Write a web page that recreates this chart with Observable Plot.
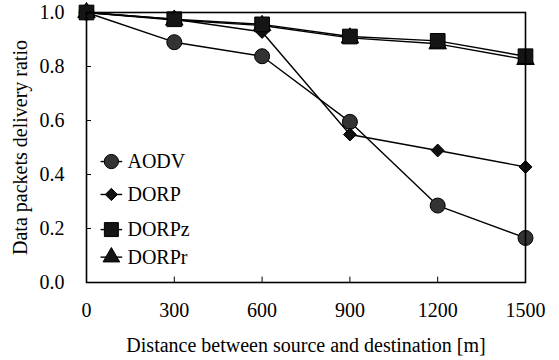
<!DOCTYPE html>
<html>
<head>
<meta charset="utf-8">
<script src="https://cdn.jsdelivr.net/npm/d3@7"></script>
<script src="https://cdn.jsdelivr.net/npm/@observablehq/plot@0.6"></script>
<style>
  html, body { margin: 0; padding: 0; background: #fff; }
  #chart { width: 559px; height: 360px; }
  #chart svg, #chart svg text, #chart svg g { font-family: "Liberation Serif", "Times New Roman", Times, Tinos, "DejaVu Serif", serif !important; }
</style>
</head>
<body>
<div id="chart"></div>
<script>
const distances = [0, 300, 600, 900, 1200, 1500];
const aodv  = [1.0, 0.89, 0.838, 0.595, 0.285, 0.165];
const dorp  = [1.0, 0.975, 0.928, 0.548, 0.489, 0.428];
const dorpz = [1.0, 0.975, 0.956, 0.911, 0.895, 0.838];
const dorpr = [1.0, 0.972, 0.952, 0.906, 0.884, 0.826];
const seriesNames = ["AODV", "DORP", "DORPz", "DORPr"];
const xTicks = [0, 300, 600, 900, 1200, 1500];
const yTicks = [0.0, 0.2, 0.4, 0.6, 0.8, 1.0];

const style = {
  AODV:  {symbol: "circle",   r: 7.5, fill: "#333"},
  DORP:  {symbol: "diamond2", r: 5.8, fill: "#111"},
  DORPz: {symbol: "square",   r: 8.3, fill: "#151515"},
  DORPr: {symbol: "triangle", r: 6.5, fill: "#151515"}
};
const values = {AODV: aodv, DORP: dorp, DORPz: dorpz, DORPr: dorpr};
const rows = seriesNames.flatMap(s => distances.map((d, i) => ({series: s, x: d, y: values[s][i]})));

// legend layout (in data units)
const legY = [0.448, 0.326, 0.196, 0.094];
const legend = seriesNames.map((s, i) => ({series: s, x1: 48, x2: 122, xm: 85, xt: 140, y: legY[i]}));

const drawOrder = ["AODV", "DORP", "DORPr", "DORPz"];
const FS = 20;
const FF = "'Liberation Serif', 'Times New Roman', Times, Tinos, 'DejaVu Serif', serif";

const marks = [];
marks.push(Plot.ruleX(xTicks.slice(1, -1), {y1: 0, y2: 0.02, stroke: "black", strokeWidth: 1}));
marks.push(Plot.ruleY(yTicks.slice(1, -1), {x1: 0, x2: 17, stroke: "black", strokeWidth: 1}));
for (const s of drawOrder) {
  const d = rows.filter(r => r.series === s);
  marks.push(Plot.line(d, {x: "x", y: "y", stroke: "black", strokeWidth: 1.4}));
}
for (const s of drawOrder) {
  const d = rows.filter(r => r.series === s);
  const st = style[s];
  marks.push(Plot.dot(d, {x: "x", y: "y", symbol: () => st.symbol, r: st.r, fill: st.fill, stroke: "black", strokeWidth: 1}));
}
marks.push(Plot.link(legend, {x1: "x1", x2: "x2", y1: "y", y2: "y", stroke: "black", strokeWidth: 1.4}));
for (const s of seriesNames) {
  const st = style[s];
  const d = legend.filter(l => l.series === s);
  marks.push(Plot.dot(d, {x: "xm", y: "y", symbol: () => st.symbol, r: st.r * 0.95, fill: st.fill, stroke: "black", strokeWidth: 1}));
}
marks.push(Plot.text(legend, {x: "xt", y: "y", text: "series", textAnchor: "start", fontSize: FS, fontFamily: FF, fill: "black"}));
marks.push(Plot.frame({stroke: "black", strokeWidth: 1.6}));
marks.push(Plot.axisX(xTicks, {tickSize: 0, tickPadding: 20, fontSize: FS, fontFamily: FF, tickFormat: d3.format("d"), label: null}));
marks.push(Plot.axisY(yTicks, {tickSize: 0, tickPadding: 22, fontSize: FS, fontFamily: FF, tickFormat: d3.format(".1f"), label: null}));
marks.push(Plot.text(["Distance between source and destination [m]"], {frameAnchor: "bottom", textAnchor: "middle", dy: 69, fontSize: FS, fontFamily: FF, fill: "black"}));
marks.push(Plot.text(["Data packets delivery ratio"], {frameAnchor: "left", textAnchor: "middle", dx: -66, rotate: -90, fontSize: FS, fontFamily: FF, fill: "black"}));

const chart = Plot.plot({
  width: 559,
  height: 360,
  marginLeft: 86,
  marginRight: 34,
  marginTop: 12,
  marginBottom: 78,
  x: {domain: [0, 1500]},
  y: {domain: [0, 1.0]},
  style: {color: "black", background: "white", overflow: "visible", fontFamily: FF, fontSize: FS + "px"},
  marks
});
document.getElementById("chart").appendChild(chart);
</script>
</body>
</html>
